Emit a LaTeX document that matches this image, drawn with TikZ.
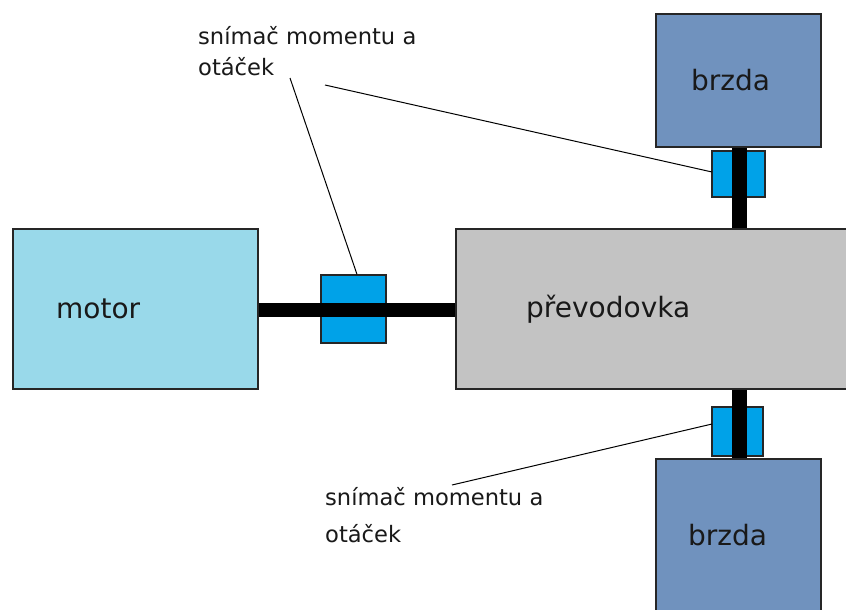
\documentclass[tikz,border=0pt]{standalone}
\usepackage{fontspec}
\setmainfont{DejaVu Sans}
\definecolor{motorc}{RGB}{153,217,234}
\definecolor{gearc}{RGB}{195,195,195}
\definecolor{brakec}{RGB}{112,146,190}
\definecolor{sensc}{RGB}{0,162,232}
\begin{document}
\begin{tikzpicture}[x=1pt,y=-1pt,
  blockbox/.style={draw=black!85,line width=1.5pt,inner sep=0pt,rectangle},
  sensbox/.style={draw=black!85,fill=sensc,line width=1.2pt,inner sep=0pt,rectangle},
  shaftline/.style={line width=14.5pt,black},
  leader/.style={draw=black,line width=1pt},
  bigtxt/.style={font=\fontsize{28}{32}\selectfont,anchor=base west,inner sep=0pt,text=black!90},
  smalltxt/.style={font=\fontsize{22.6}{26}\selectfont,anchor=base west,inner sep=0pt,text=black!90}]
\useasboundingbox (0,0) rectangle (846,610);
\clip (0,0) rectangle (846,610);
\fill[white] (0,0) rectangle (846,610);
% blocks
\node[blockbox,fill=motorc,minimum width=245pt,minimum height=160pt] (motor) at (135.5,309) {};
\node[blockbox,fill=gearc,minimum width=410pt,minimum height=160pt] (gear) at (661,309) {};
\node[blockbox,fill=brakec,minimum width=165pt,minimum height=133pt] (brakeT) at (738.5,80.5) {};
\node[blockbox,fill=brakec,minimum width=165pt,minimum height=171pt] (brakeB) at (738.5,544.5) {};
% sensors
\node[sensbox,minimum width=65pt,minimum height=68pt] (sensM) at (353.5,309) {};
\node[sensbox,minimum width=53pt,minimum height=46pt] (sensT) at (738.5,174) {};
\node[sensbox,minimum width=51pt,minimum height=49pt] (sensB) at (737.5,431.5) {};
% shafts
\draw[shaftline] (motor.east |- 0,310) -- (gear.west |- 0,310);
\draw[shaftline,line width=15pt] (brakeT.south -| 739.5,0) -- (gear.north -| 739.5,0);
\draw[shaftline,line width=15pt] (gear.south -| 739.5,0) -- (brakeB.north -| 739.5,0);
% texts
\node[bigtxt] (tmotor) at (56,318) {motor};
\node[bigtxt] (tgear) at (526,317) {převodovka};
\node[bigtxt] (tbrakeT) at (691,90) {brzda};
\node[bigtxt] (tbrakeB) at (688,545) {brzda};
\node[smalltxt] (lab1a) at (198,45) {snímač momentu a};
\node[smalltxt] (lab1b) at (198,75) {otáček};
\node[smalltxt] (lab2a) at (325,505) {snímač momentu a};
\node[smalltxt] (lab2b) at (325,542) {otáček};
% leaders
\coordinate (l1) at (290,78);
\coordinate (l2) at (325,85);
\coordinate (l3) at (452,485);
\coordinate (eT) at (712,172);
\coordinate (eB) at (712,424);
\draw[leader] (l1) -- (sensM.north -| 357,0);
\draw[leader] (l2) -- (eT);
\draw[leader] (eB) -- (l3);
\end{tikzpicture}
\end{document}
